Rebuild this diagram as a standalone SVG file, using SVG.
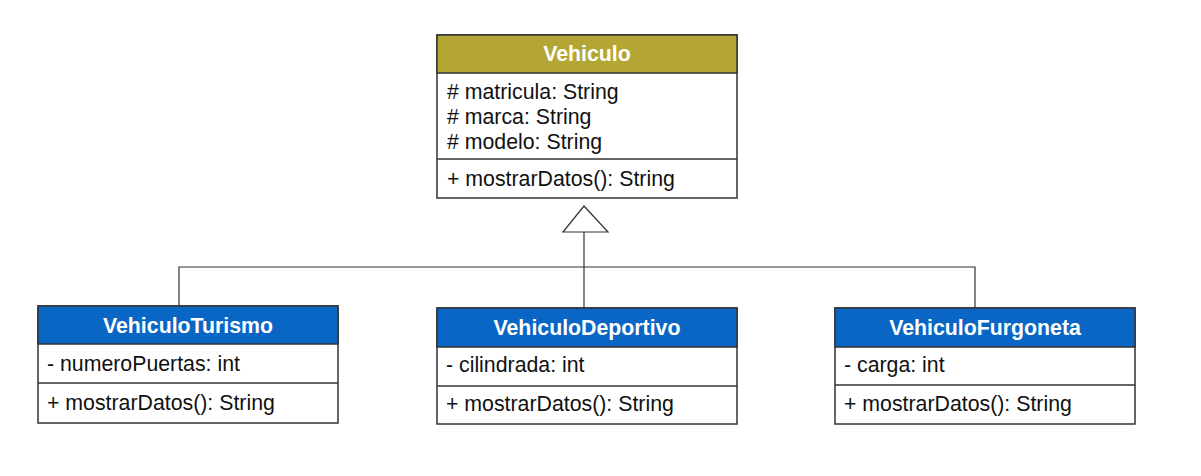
<svg xmlns="http://www.w3.org/2000/svg" width="1201" height="476" viewBox="0 0 1201 476">
<style>
.box{fill:#fff;stroke:#333;stroke-width:1.5}
.hdrO{fill:#b4a634;stroke:#333;stroke-width:1.5}
.hdrB{fill:#0a66c4;stroke:#333;stroke-width:1.5}
.sep{stroke:#333;stroke-width:1.5}
.t{font-family:"Liberation Sans",Arial,sans-serif;font-size:21.3px;fill:#111}
.h{font-family:"Liberation Sans",Arial,sans-serif;font-size:21.3px;font-weight:bold;fill:#fff;text-anchor:middle}
.c{fill:none;stroke:#333;stroke-width:1.2}
</style>
<rect width="1201" height="476" fill="#fff"/>
<g id="connectors">
<polyline class="c" points="179,306 179,267 975,267 975,308"/>
<line class="c" x1="584" y1="232" x2="584" y2="308"/>
<polygon points="584,206 563,232 608,232" fill="#fff" stroke="#333" stroke-width="1.2"/>
</g>
<g id="Vehiculo">
<rect class="box" x="437" y="35" width="300" height="163"/>
<rect class="hdrO" x="437" y="35" width="300" height="38"/>
<line class="sep" x1="437" y1="159" x2="737" y2="159"/>
<text class="h" x="587" y="61">Vehiculo</text>
<text class="t" x="447" y="99"># matricula: String</text>
<text class="t" x="447" y="124"># marca: String</text>
<text class="t" x="447" y="149"># modelo: String</text>
<text class="t" x="447" y="186">+ mostrarDatos(): String</text>
</g>
<g id="VehiculoTurismo">
<rect class="box" x="38" y="306" width="300" height="117"/>
<rect class="hdrB" x="38" y="306" width="300" height="38"/>
<line class="sep" x1="38" y1="383" x2="338" y2="383"/>
<text class="h" x="188" y="333">VehiculoTurismo</text>
<text class="t" x="47" y="371">- numeroPuertas: int</text>
<text class="t" x="47" y="410">+ mostrarDatos(): String</text>
</g>
<g id="VehiculoDeportivo">
<rect class="box" x="437" y="308" width="300" height="116"/>
<rect class="hdrB" x="437" y="308" width="300" height="39"/>
<line class="sep" x1="437" y1="386" x2="737" y2="386"/>
<text class="h" x="587" y="335">VehiculoDeportivo</text>
<text class="t" x="446" y="372">- cilindrada: int</text>
<text class="t" x="446" y="411">+ mostrarDatos(): String</text>
</g>
<g id="VehiculoFurgoneta">
<rect class="box" x="835" y="308" width="300" height="116"/>
<rect class="hdrB" x="835" y="308" width="300" height="39"/>
<line class="sep" x1="835" y1="385" x2="1135" y2="385"/>
<text class="h" x="985" y="335">VehiculoFurgoneta</text>
<text class="t" x="844" y="372">- carga: int</text>
<text class="t" x="844" y="411">+ mostrarDatos(): String</text>
</g>
</svg>
